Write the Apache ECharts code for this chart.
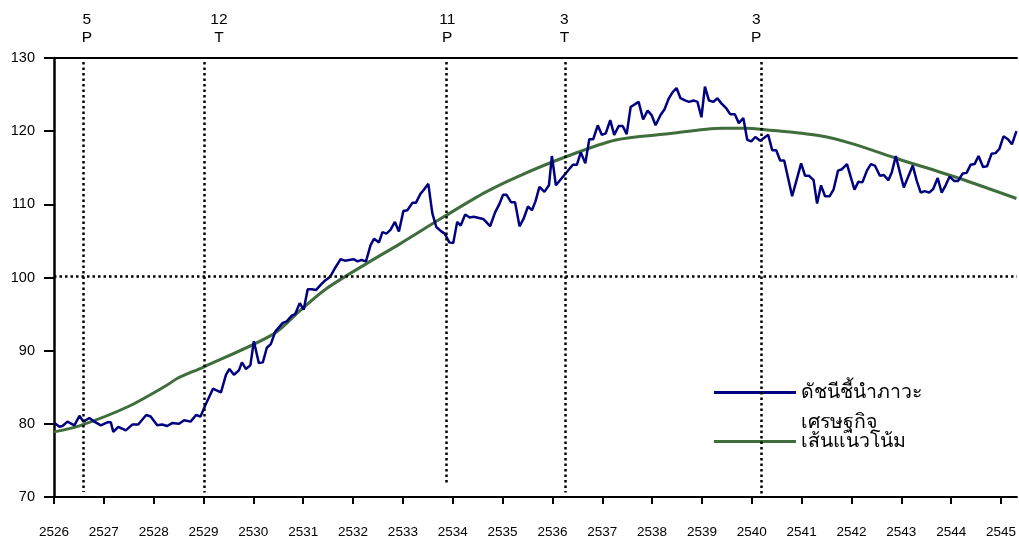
<!DOCTYPE html>
<html>
<head>
<meta charset="utf-8">
<script src="https://cdn.jsdelivr.net/npm/echarts@6/dist/echarts.min.js"></script>
<style>
  html, body { margin: 0; padding: 0; background: #fff; }
  #chart { width: 1019px; height: 547px; }
</style>
</head>
<body>
<div id="chart"></div>
<script>
// Leading economic index (monthly), x in Buddhist-era years
const indexYears = [
  2526.01, 2526.11, 2526.17, 2526.27, 2526.41, 2526.51, 2526.59, 2526.71, 2526.81, 2526.94,
  2527.07, 2527.14, 2527.19, 2527.29, 2527.44, 2527.57, 2527.69, 2527.85, 2527.94, 2528.07,
  2528.17, 2528.27, 2528.37, 2528.51, 2528.61, 2528.74, 2528.85, 2528.94, 2529.04, 2529.19,
  2529.25, 2529.35, 2529.45, 2529.52, 2529.61, 2529.71, 2529.77, 2529.85, 2529.94, 2530.01,
  2530.11, 2530.19, 2530.27, 2530.35, 2530.44, 2530.59, 2530.67, 2530.77, 2530.84, 2530.93,
  2531.01, 2531.09, 2531.17, 2531.26, 2531.35, 2531.44, 2531.54, 2531.64, 2531.75, 2531.84,
  2531.92, 2532.01, 2532.09, 2532.17, 2532.26, 2532.35, 2532.42, 2532.52, 2532.59, 2532.67,
  2532.75, 2532.84, 2532.92, 2533.01, 2533.09, 2533.19, 2533.26, 2533.35, 2533.42, 2533.51,
  2533.59, 2533.67, 2533.77, 2533.84, 2533.93, 2534.01, 2534.09, 2534.16, 2534.25, 2534.34,
  2534.42, 2534.61, 2534.67, 2534.75, 2534.85, 2534.94, 2535.01, 2535.08, 2535.17, 2535.25,
  2535.34, 2535.42, 2535.51, 2535.59, 2535.66, 2535.74, 2535.84, 2535.93, 2535.99, 2536.07,
  2536.24, 2536.41, 2536.49, 2536.57, 2536.66, 2536.74, 2536.82, 2536.91, 2536.99, 2537.07,
  2537.16, 2537.24, 2537.33, 2537.41, 2537.49, 2537.57, 2537.73, 2537.82, 2537.91, 2537.99,
  2538.07, 2538.17, 2538.25, 2538.33, 2538.41, 2538.49, 2538.57, 2538.66, 2538.74, 2538.83,
  2538.91, 2538.99, 2539.06, 2539.14, 2539.23, 2539.31, 2539.39, 2539.49, 2539.57, 2539.66,
  2539.74, 2539.83, 2539.91, 2539.99, 2540.07, 2540.17, 2540.33, 2540.41, 2540.49, 2540.57,
  2540.65, 2540.81, 2540.89, 2540.99, 2541.07, 2541.15, 2541.24, 2541.31, 2541.39, 2541.47,
  2541.56, 2541.64, 2541.73, 2541.81, 2541.91, 2542.06, 2542.14, 2542.22, 2542.31, 2542.39,
  2542.47, 2542.57, 2542.65, 2542.74, 2542.81, 2542.89, 2542.97, 2543.05, 2543.14, 2543.23,
  2543.31, 2543.39, 2543.47, 2543.56, 2543.64, 2543.73, 2543.81, 2543.89, 2543.97, 2544.06,
  2544.14, 2544.23, 2544.31, 2544.39, 2544.47, 2544.55, 2544.64, 2544.72, 2544.81, 2544.89,
  2544.97, 2545.05, 2545.14, 2545.22, 2545.31
];
const indexValues = [
  80.1, 79.6, 79.7, 80.3, 79.8, 81.1, 80.3, 80.8, 80.3, 79.8,
  80.2, 80.2, 78.9, 79.6, 79.1, 79.9, 79.9, 81.2, 81.0, 79.8,
  79.9, 79.7, 80.1, 80.0, 80.5, 80.3, 81.2, 81.0, 82.6, 84.8,
  84.6, 84.3, 86.7, 87.5, 86.7, 87.3, 88.4, 87.5, 88.0, 91.3,
  88.3, 88.4, 90.4, 90.9, 92.6, 93.8, 94.0, 94.8, 95.0, 96.5,
  95.6, 98.4, 98.4, 98.3, 99.0, 99.6, 100.1, 101.3, 102.5, 102.3,
  102.4, 102.5, 102.2, 102.4, 102.2, 104.4, 105.3, 104.8, 106.2, 106.0,
  106.5, 107.6, 106.3, 109.1, 109.2, 110.2, 110.2, 111.4, 112.0, 112.8,
  108.8, 106.9, 106.3, 106.0, 104.8, 104.7, 107.6, 107.1, 108.6, 108.2,
  108.3, 108.0, 107.6, 107.0, 108.9, 110.1, 111.3, 111.3, 110.3, 110.3,
  107.0, 108.0, 109.7, 109.2, 110.4, 112.4, 111.7, 112.6, 116.6, 112.6,
  114.0, 115.4, 115.4, 117.1, 115.6, 118.9, 118.9, 120.8, 119.5, 119.7,
  121.5, 119.5, 120.7, 120.7, 119.6, 123.3, 124.0, 121.6, 122.8, 122.2,
  120.8, 122.2, 123.0, 124.4, 125.3, 125.9, 124.5, 124.2, 124.0, 124.2,
  124.0, 121.9, 126.1, 124.2, 124.0, 124.5, 123.8, 123.1, 122.3, 122.3,
  121.1, 121.8, 118.8, 118.6, 119.2, 118.7, 119.5, 117.4, 117.4, 116.0,
  116.0, 111.1, 113.1, 115.6, 113.9, 113.9, 113.3, 110.1, 112.6, 111.1,
  111.1, 112.0, 114.6, 114.8, 115.5, 112.0, 113.1, 113.0, 114.6, 115.5,
  115.3, 113.9, 114.0, 113.3, 114.4, 116.6, 114.4, 112.3, 113.8, 115.3,
  113.2, 111.6, 111.8, 111.6, 112.1, 113.6, 111.6, 112.6, 113.8, 113.2,
  113.2, 114.2, 114.3, 115.4, 115.5, 116.6, 115.1, 115.2, 116.9, 117.0,
  117.6, 119.3, 118.9, 118.2, 120.0
];

// Trend line
const trendYears = [
  2526.0, 2526.54, 2527.47, 2528.27, 2528.47, 2529.01, 2530.41, 2530.94, 2531.45, 2532.27,
  2532.94, 2533.87, 2534.67, 2535.34, 2536.27, 2537.27, 2538.27, 2539.41, 2539.87, 2540.27,
  2541.34, 2542.01, 2542.94, 2544.14, 2545.31
];
const trendValues = [
  78.9, 79.8, 82.3, 85.3, 86.2, 87.8, 92.3, 95.5, 98.4, 101.9,
  104.6, 108.5, 111.7, 113.9, 116.5, 118.8, 119.6, 120.4, 120.4, 120.2,
  119.4, 118.3, 116.2, 113.6, 110.8
];

// Turning points (peak P / trough T), month number above
const turnYears = [2526.58, 2529.02, 2533.86, 2536.26, 2540.19];
const turnLabelYears = [2526.66, 2529.31, 2533.89, 2536.24, 2540.09];
const turnMonths = ['5', '12', '11', '3', '3'];
const turnKinds = ['P', 'T', 'P', 'T', 'P'];
const turnBottoms = [70.7, 70.6, 71.8, 70.6, 70.3];

const yearTicks = [];
for (let y = 2526; y <= 2545; y++) yearTicks.push(y);

const seriesNames = ['ดัชนีชี้นำภาวะ', 'เส้นแนวโน้ม'];
const seriesNameTail = 'เศรษฐกิจ';

const FONT = '"Liberation Sans", Arial, sans-serif';
const BLUE = '#000080';
const GREEN = '#3f6d3c';

const chart = echarts.init(document.getElementById('chart'), null, { renderer: 'canvas' });

const dotted = { color: '#000', width: 2.5, type: [2.5, 3] };

chart.setOption({
  animation: false,
  backgroundColor: '#fff',
  grid: { left: 54, right: 0, top: 58, bottom: 50 },
  legend: {
    orient: 'vertical',
    left: 709,
    top: 376,
    itemWidth: 82,
    itemHeight: 3,
    itemGap: 26,
    icon: 'rect',
    data: seriesNames,
    textStyle: { fontFamily: FONT, fontSize: 19.5, lineHeight: 23, color: '#000' },
    selectedMode: false,
  },
  xAxis: [
    {
      type: 'value',
      min: 2526,
      max: 2545.32,
      interval: 1,
      axisLine: { lineStyle: { color: '#000', width: 2 } },
      axisTick: { show: true, length: 7, lineStyle: { color: '#000', width: 2 }, customValues: yearTicks },
      axisLabel: {
        margin: 28,
        fontFamily: FONT,
        fontSize: 13.5,
        color: '#000',
        customValues: yearTicks,
        formatter: (v) => String(v),
      },
      splitLine: { show: false },
    },
    {
      type: 'value',
      position: 'top',
      min: 2526,
      max: 2545.32,
      axisLine: { show: true, lineStyle: { color: '#000', width: 2 } },
      axisTick: { show: false },
      axisLabel: { show: false },
      splitLine: { show: false },
    },
  ],
  yAxis: {
    type: 'value',
    min: 70,
    max: 130,
    interval: 10,
    axisLine: { show: true, lineStyle: { color: '#000', width: 2.5 } },
    axisTick: { show: true, length: 10, lineStyle: { color: '#000', width: 2 } },
    axisLabel: { margin: 19, fontFamily: FONT, fontSize: 14.5, color: '#000' },
    splitLine: { show: false },
  },
  series: [
    {
      name: seriesNames[0],
      type: 'line',
      showSymbol: false,
      data: indexYears.map((x, i) => [x, indexValues[i]]),
      lineStyle: { color: BLUE, width: 2.5 },
      itemStyle: { color: BLUE },
      z: 4,
      markLine: {
        silent: true,
        symbol: 'none',
        label: { show: false },
        lineStyle: dotted,
        data: [
          [{ coord: [2526, 100.2] }, { coord: [2545.32, 100.2] }],
          ...turnYears.map((x, i) => [{ coord: [x, 129.45] }, { coord: [x, turnBottoms[i]] }]),
        ],
      },
    },
    {
      name: seriesNames[1],
      type: 'line',
      showSymbol: false,
      smooth: 0.3,
      data: trendYears.map((x, i) => [x, trendValues[i]]),
      lineStyle: { color: GREEN, width: 3 },
      itemStyle: { color: GREEN },
      z: 3,
    },
  ],
});

// Turning-point labels above the plot, placed through the x scale
const labelGraphics = turnLabelYears.map((x, i) => {
  const px = chart.convertToPixel({ xAxisIndex: 0 }, x);
  return {
    type: 'text',
    x: px,
    y: 11,
    style: {
      text: turnMonths[i] + '\n' + turnKinds[i],
      fontFamily: FONT,
      fontSize: 15.5,
      lineHeight: 18,
      fill: '#000',
      align: 'center',
      verticalAlign: 'top',
    },
  };
});

chart.setOption({
  graphic: [
    ...labelGraphics,
    {
      type: 'text',
      left: 801,
      top: 413,
      style: { text: seriesNameTail, fontFamily: FONT, fontSize: 19.5, fill: '#000' },
    },
  ],
});
</script>
</body>
</html>
